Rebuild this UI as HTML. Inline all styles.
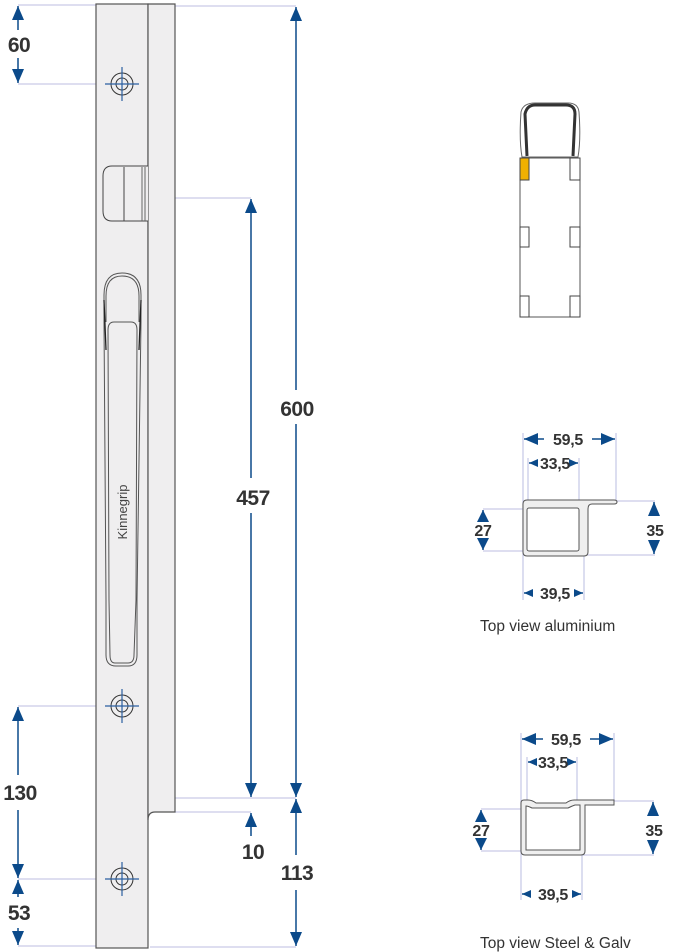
<!DOCTYPE html>
<html><head><meta charset="utf-8"><style>html,body{margin:0;padding:0;background:#fff}svg{display:block}</style></head><body>
<svg width="700" height="952" viewBox="0 0 700 952" xmlns="http://www.w3.org/2000/svg" font-family="Liberation Sans, Arial, sans-serif">
<defs>
<marker id="a" markerUnits="userSpaceOnUse" markerWidth="16" markerHeight="12" refX="14" refY="6" orient="auto-start-reverse"><path d="M0,0 L14,6 L0,12 Z" fill="#0b4a8a"/></marker>
<marker id="m" markerUnits="userSpaceOnUse" markerWidth="14" markerHeight="12" refX="12" refY="6" orient="auto-start-reverse"><path d="M0,0 L12,6 L0,12 Z" fill="#0b4a8a"/></marker>
<marker id="s" markerUnits="userSpaceOnUse" markerWidth="10" markerHeight="8" refX="9" refY="4" orient="auto-start-reverse"><path d="M0,0 L9,4 L0,8 Z" fill="#0b4a8a"/></marker>
</defs>
<g stroke="#c9cbe8" stroke-width="1.3" fill="none">
<line x1="18" y1="5" x2="96" y2="5"/><line x1="18" y1="84" x2="96" y2="84"/>
<line x1="18" y1="706" x2="96" y2="706"/><line x1="18" y1="879" x2="96" y2="879"/>
<line x1="18" y1="946" x2="96" y2="946"/>
<line x1="175" y1="6" x2="296" y2="6"/><line x1="175" y1="198" x2="251" y2="198"/>
<line x1="175" y1="798" x2="296" y2="798"/><line x1="175" y1="812" x2="251" y2="812"/>
<line x1="150" y1="947" x2="296" y2="947"/>
</g>
<rect x="96" y="4" width="52" height="944" fill="#efeeef" stroke="#555" stroke-width="1.2"/>
<path d="M148,4 H175 V812 H155 Q148,812 148,820 Z" fill="#efeeef" stroke="#555" stroke-width="1.2"/>
<path d="M148,166 H112 Q103,166 103,176 V211 Q103,221 112,221 H148" fill="#efeeef" stroke="#444" stroke-width="1"/>
<line x1="124" y1="167" x2="124" y2="221" stroke="#444"/>
<line x1="142" y1="167" x2="142" y2="221" stroke="#666"/><line x1="145" y1="167" x2="145" y2="221" stroke="#666"/>
<g fill="none" stroke="#555" stroke-width="1">
<path d="M104,322 V295 Q104,273 122,273 Q141,273 141,295 V322"/>
<path d="M106,322 V296 Q106,276 122,276 Q139,276 139,296 V322"/>
<path d="M104,322 L106,600 L106,655 Q106,666 116,666 H128 Q137,666 137,655 L137,600 L141,322"/>
<path d="M108,330 Q108,322 114,322 H131 Q137,322 137,330 L136,600 L134,655 Q134,663 128,663 H115 Q110,663 110,655 L109,600 Z"/>
<line x1="104" y1="300" x2="106" y2="350" stroke="#222" stroke-width="1.3"/>
<line x1="141" y1="300" x2="139" y2="350" stroke="#222" stroke-width="1.3"/>
</g>
<text transform="translate(127,512) rotate(-90)" text-anchor="middle" font-size="13" fill="#444">Kinnegrip</text>
<g fill="none" stroke="#333" stroke-width="1">
<circle cx="122" cy="84" r="11"/><circle cx="122" cy="84" r="6"/>
<circle cx="122" cy="706" r="11"/><circle cx="122" cy="706" r="6"/>
<circle cx="122" cy="879" r="11"/><circle cx="122" cy="879" r="6"/>
</g>
<g stroke="#2a5fa0" stroke-width="1.2">
<line x1="105" y1="84" x2="139" y2="84"/><line x1="122" y1="67" x2="122" y2="101"/>
<line x1="105" y1="706" x2="139" y2="706"/><line x1="122" y1="689" x2="122" y2="723"/>
<line x1="105" y1="879" x2="139" y2="879"/><line x1="122" y1="862" x2="122" y2="896"/>
</g>
<g stroke="#0b4a8a" stroke-width="1.5" fill="none">
<line x1="18" y1="6" x2="18" y2="30" marker-start="url(#a)"/>
<line x1="18" y1="58" x2="18" y2="83" marker-end="url(#a)"/>
<line x1="18" y1="707" x2="18" y2="775" marker-start="url(#a)"/>
<line x1="18" y1="810" x2="18" y2="878" marker-end="url(#a)"/>
<line x1="18" y1="880" x2="18" y2="897" marker-start="url(#a)"/>
<line x1="18" y1="928" x2="18" y2="945" marker-end="url(#a)"/>
<line x1="296" y1="7" x2="296" y2="390" marker-start="url(#a)"/>
<line x1="296" y1="424" x2="296" y2="797" marker-end="url(#a)"/>
<line x1="251" y1="199" x2="251" y2="478" marker-start="url(#a)"/>
<line x1="251" y1="513" x2="251" y2="797" marker-end="url(#a)"/>
<line x1="251" y1="813" x2="251" y2="836" marker-start="url(#a)"/>
<line x1="296" y1="799" x2="296" y2="855" marker-start="url(#a)"/>
<line x1="296" y1="890" x2="296" y2="946" marker-end="url(#a)"/>
</g>
<g font-size="21" font-weight="bold" fill="#333" text-anchor="middle" letter-spacing="-0.5">
<text x="19" y="52">60</text>
<text x="297" y="416">600</text>
<text x="253" y="505">457</text>
<text x="253" y="859">10</text>
<text x="297" y="880">113</text>
<text x="20" y="800">130</text>
<text x="19" y="920">53</text>
</g>
<g fill="none" stroke="#444" stroke-width="1">
<rect x="520" y="158" width="60" height="159" stroke="#555"/>
<rect x="520" y="158" width="9" height="22" fill="#f0b000"/>
<rect x="570" y="158" width="10" height="22"/>
<rect x="520" y="227" width="9" height="20"/><rect x="570" y="227" width="10" height="20"/>
<rect x="520" y="296" width="9" height="21"/><rect x="570" y="296" width="10" height="21"/>
<path d="M522,157 Q519,140 521,112 Q523,103 535,103 H568 Q578,103 579,112 Q581,140 578,157 Z" stroke="#666"/>
<path d="M527,156 L525,114 Q527,105 535,105 H566 Q575,105 575,114 L573,156" stroke="#333" stroke-width="3"/>
</g>
<g stroke="#c9cbe8" stroke-width="1.3" fill="none">
<line x1="523" y1="433" x2="523" y2="600"/><line x1="616" y1="433" x2="616" y2="500"/>
<line x1="528" y1="458" x2="528" y2="500"/><line x1="579" y1="458" x2="579" y2="500"/>
<line x1="584" y1="556" x2="584" y2="600"/>
<line x1="483" y1="509" x2="523" y2="509"/><line x1="483" y1="551" x2="523" y2="551"/>
<line x1="616" y1="501" x2="655" y2="501"/><line x1="584" y1="555" x2="655" y2="555"/>
</g>
<path d="M523,504 Q523,500 527,500 H614 Q617,500 617,502 Q617,504 614,504 H592 Q588,504 588,509 V552 Q588,556 584,556 H527 Q523,556 523,552 Z" fill="#efefef" stroke="#555" stroke-width="1"/>
<rect x="527" y="508" width="52" height="43" rx="2" fill="#fff" stroke="#555" stroke-width="1"/>
<g stroke="#c9cbe8" stroke-width="1.3" fill="none">
<line x1="521" y1="733" x2="521" y2="900"/><line x1="614" y1="733" x2="614" y2="801"/>
<line x1="527" y1="757" x2="527" y2="801"/><line x1="577" y1="757" x2="577" y2="801"/>
<line x1="582" y1="855" x2="582" y2="900"/>
<line x1="481" y1="809" x2="530" y2="809"/><line x1="481" y1="851" x2="521" y2="851"/>
<line x1="614" y1="801" x2="654" y2="801"/><line x1="582" y1="855" x2="654" y2="855"/>
</g>
<path d="M521,803 Q521,800 524,800 H528 Q532,800 536,803 H566 Q570,800 574,800 H614 V805 H585 V851 Q585,855 581,855 H525 Q521,855 521,851 Z" fill="#efefef" stroke="#555" stroke-width="1"/>
<path d="M526,806 Q528,806 532,808 H568 Q572,806 575,805 H580 V850 H526 Z" fill="#fff" stroke="#555" stroke-width="1"/>
<g stroke="#0b4a8a" stroke-width="1.5" fill="none">
<line x1="524" y1="439" x2="544" y2="439" marker-start="url(#a)"/>
<line x1="592" y1="439" x2="615" y2="439" marker-end="url(#a)"/>
<line x1="529" y1="463" x2="534" y2="463" marker-start="url(#s)"/>
<line x1="572" y1="463" x2="578" y2="463" marker-end="url(#s)"/>
<line x1="524" y1="593" x2="532" y2="593" marker-start="url(#s)"/>
<line x1="575" y1="593" x2="583" y2="593" marker-end="url(#s)"/>
<line x1="483" y1="510" x2="483" y2="512" marker-start="url(#m)"/>
<line x1="483" y1="548" x2="483" y2="550" marker-end="url(#m)"/>
<line x1="654" y1="502" x2="654" y2="512" marker-start="url(#a)"/>
<line x1="654" y1="544" x2="654" y2="554" marker-end="url(#a)"/>
<line x1="522" y1="739" x2="543" y2="739" marker-start="url(#a)"/>
<line x1="590" y1="739" x2="613" y2="739" marker-end="url(#a)"/>
<line x1="528" y1="762" x2="533" y2="762" marker-start="url(#s)"/>
<line x1="571" y1="762" x2="576" y2="762" marker-end="url(#s)"/>
<line x1="522" y1="894" x2="530" y2="894" marker-start="url(#s)"/>
<line x1="573" y1="894" x2="581" y2="894" marker-end="url(#s)"/>
<line x1="481" y1="810" x2="481" y2="812" marker-start="url(#m)"/>
<line x1="481" y1="848" x2="481" y2="850" marker-end="url(#m)"/>
<line x1="653" y1="802" x2="653" y2="812" marker-start="url(#a)"/>
<line x1="653" y1="844" x2="653" y2="854" marker-end="url(#a)"/>
</g>
<g font-size="16" font-weight="bold" fill="#333" text-anchor="middle" letter-spacing="-0.3">
<text x="568" y="445">59,5</text><text x="555" y="469">33,5</text><text x="555" y="599">39,5</text>
<text x="483" y="536">27</text><text x="655" y="536">35</text>
<text x="566" y="745">59,5</text><text x="553" y="768">33,5</text><text x="553" y="900">39,5</text>
<text x="481" y="836">27</text><text x="654" y="836">35</text>
</g>
<g font-size="15.5" fill="#333">
<text x="480" y="631">Top view aluminium</text>
<text x="480" y="948">Top view Steel &amp; Galv</text>
</g>
</svg>
</body></html>
